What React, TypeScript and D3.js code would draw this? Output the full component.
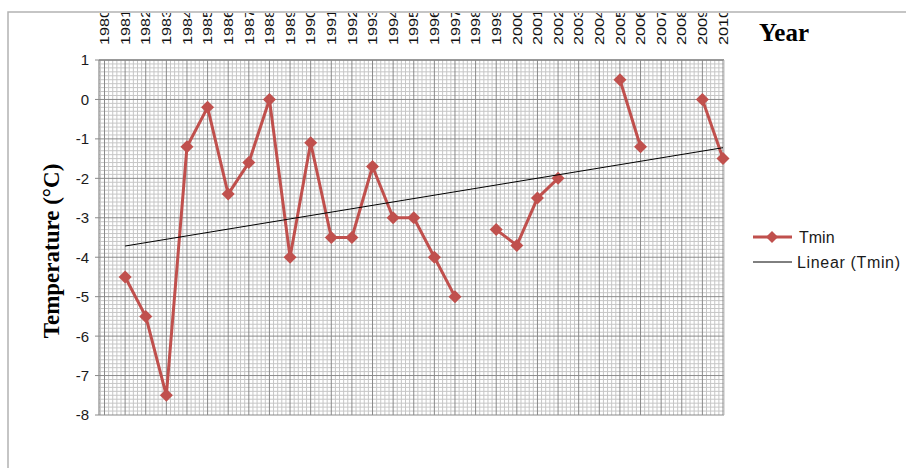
import React from "react";
import * as d3 from "d3";

const years: number[] = d3.range(1980, 2011);
const yearLabels: string[] = years.map(String);
const tmin: (number | null)[] = [
  null, -4.5, -5.5, -7.5, -1.2, -0.2, -2.4, -1.6, 0, -4, -1.1,
  -3.5, -3.5, -1.7, -3, -3, -4, -5, null, -3.3, -3.7,
  -2.5, -2, null, null, 0.5, -1.2, null, null, 0, -1.5,
];
const yTicks: number[] = [1, 0, -1, -2, -3, -4, -5, -6, -7, -8];
const seriesName = "Tmin";
const trendName = "Linear (Tmin)";

const W = 907, H = 468;
const plotL = 99, plotR = 724, plotT = 60, plotB = 415;
const red = "#c0504d";

export default function App() {
  const x = d3.scaleLinear().domain([1980, 2010]).range([104.5, 723]);
  const y = d3.scaleLinear().domain([-8, 1]).range([plotB, plotT]);

  const pts = years.map((yr, i) => ({ yr, v: tmin[i] }));
  const valid = pts.filter((p) => p.v != null) as { yr: number; v: number }[];

  // least squares trendline (Excel linear trendline)
  const mx = d3.mean(valid, (p) => p.yr) as number;
  const my = d3.mean(valid, (p) => p.v) as number;
  const sxy = d3.sum(valid, (p) => (p.yr - mx) * (p.v - my));
  const sxx = d3.sum(valid, (p) => (p.yr - mx) ** 2);
  const slope = sxy / sxx;
  const icpt = my - slope * mx;
  const t0 = valid[0].yr, t1 = valid[valid.length - 1].yr;

  const line = d3
    .line<{ yr: number; v: number | null }>()
    .defined((p) => p.v != null)
    .x((p) => x(p.yr))
    .y((p) => y(p.v as number));

  const vMinor: number[] = [];
  for (let k = -2; k <= 152; k++) {
    const px = x(1980 + k * 0.2);
    if (px >= plotL - 0.1 && px <= plotR + 0.1 && k % 5 !== 0) vMinor.push(px);
  }
  const hMinor: number[] = [];
  for (let k = -80; k <= 10; k++) {
    if (k % 10 !== 0) hMinor.push(y(k / 10));
  }

  const diamond = (cx: number, cy: number, r: number) =>
    `M${cx},${cy - r}L${cx + r},${cy}L${cx},${cy + r}L${cx - r},${cy}Z`;

  return (
    <svg
      width={W}
      height={H}
      style={{ position: "absolute", left: 0, top: 0, background: "#fff" }}
    >
      <defs>
        <clipPath id="labclip">
          <rect x={0} y={13} width={W} height={H} />
        </clipPath>
      </defs>
      <path d={`M8,${H}V12H906`} fill="none" stroke="#b3b3b3" strokeWidth={1.5} />

      <g stroke="#c6c6c6" strokeWidth={1}>
        {vMinor.map((px, i) => (
          <line key={"vm" + i} x1={px} x2={px} y1={plotT} y2={plotB} />
        ))}
        {hMinor.map((py, i) => (
          <line key={"hm" + i} x1={plotL} x2={plotR} y1={py} y2={py} />
        ))}
      </g>
      <g stroke="#8a8a8a" strokeWidth={1}>
        {years.map((yr) => (
          <line key={"vM" + yr} x1={x(yr)} x2={x(yr)} y1={plotT} y2={plotB} />
        ))}
        {yTicks.map((t) => (
          <line key={"hM" + t} x1={plotL - 4} x2={plotR} y1={y(t)} y2={y(t)} />
        ))}
      </g>
      <line x1={plotL} x2={plotL} y1={plotT} y2={plotB} stroke="#8a8a8a" strokeWidth={1.2} />
      <line x1={plotL} x2={plotR} y1={plotT} y2={plotT} stroke="#8a8a8a" strokeWidth={1.5} />
      <line x1={plotR} x2={plotR} y1={plotT} y2={plotB} stroke="#bdbdbd" strokeWidth={1} />

      <g fontFamily="'Liberation Sans', Arial, sans-serif" fontSize={15} fill="#1a1a1a" textAnchor="end">
        {yTicks.map((t) => (
          <text key={"yt" + t} x={89} y={y(t)} dy="0.36em">
            {String(t)}
          </text>
        ))}
      </g>

      <g clipPath="url(#labclip)" fontFamily="'Liberation Sans', Arial, sans-serif" fontSize={13} fill="#111">
        {yearLabels.map((lab, i) => (
          <text
            key={"xl" + lab}
            transform={`translate(${x(years[i]) + 4.7},45) rotate(-90) scale(1.25,1)`}
            textAnchor="start"
          >
            {lab}
          </text>
        ))}
      </g>

      <text x={759} y={41} fontFamily="'Liberation Serif', 'Times New Roman', serif" fontWeight="bold" fontSize={25} fill="#000">
        Year
      </text>
      <text
        transform={`translate(59,251) rotate(-90)`}
        textAnchor="middle"
        fontFamily="'Liberation Serif', 'Times New Roman', serif"
        fontWeight="bold"
        fontSize={23}
        fill="#000"
      >
        Temperature (°C)
      </text>

      <path d={line(pts) || ""} fill="none" stroke={red} strokeWidth={3} strokeLinejoin="round" />
      {valid.map((p) => (
        <path key={"mk" + p.yr} d={diamond(x(p.yr), y(p.v), 6.5)} fill={red} />
      ))}

      <line
        x1={x(t0)}
        y1={y(icpt + slope * t0)}
        x2={x(t1)}
        y2={y(icpt + slope * t1)}
        stroke="#000"
        strokeWidth={1}
      />

      <line x1={753} x2={792} y1={237} y2={237} stroke={red} strokeWidth={3} />
      <path d={diamond(772, 237, 6)} fill={red} />
      <text x={799} y={237} dy="0.36em" fontFamily="'Liberation Sans', Arial, sans-serif" fontSize={16} fill="#1a1a1a">
        {seriesName}
      </text>
      <line x1={753} x2={792} y1={262} y2={262} stroke="#000" strokeWidth={1} />
      <text x={797} y={262} dy="0.36em" fontFamily="'Liberation Sans', Arial, sans-serif" fontSize={16} fill="#1a1a1a" textLength={103}>
        {trendName}
      </text>
    </svg>
  );
}
